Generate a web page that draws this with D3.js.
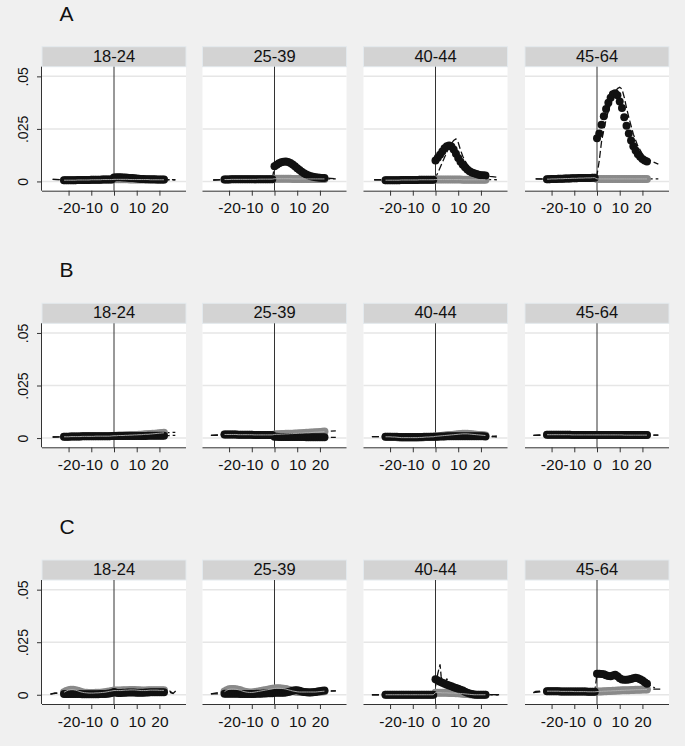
<!DOCTYPE html>
<html><head><meta charset="utf-8">
<script src="https://cdn.jsdelivr.net/npm/d3@7"></script>
<style>
body{margin:0;background:#f0f0f0;}
svg{display:block;font-family:"Liberation Sans",Arial,Helvetica,sans-serif;}
</style>
</head><body>
<svg id="chart" width="685" height="746"></svg>
<script>
// ---------- DATA ----------
const rowLabels = ["A", "B", "C"];
const ageGroups = ["18-24", "25-39", "40-44", "45-64"];
const months = [-22,-21,-20,-19,-18,-17,-16,-15,-14,-13,-12,-11,-10,-9,-8,-7,-6,-5,-4,-3,-2,-1,
                0,1,2,3,4,5,6,7,8,9,10,11,12,13,14,15,16,17,18,19,20,21,22];
const xTicks = [-20, -10, 0, 10, 20];
const yTicks = [0, 0.025, 0.05];
const yTickLabels = ["0", ".025", ".05"];

// Treated (black) series, per age group, row A
const treatedA = [
  [.0006,.0006,.0006,.0006,.0006,.0006,.0007,.0007,.0007,.0007,.0007,.0007,.0008,.0008,.0008,.0008,.0008,.0009,.0009,.0009,.0009,.0009,
   .0019,.0020,.0020,.0020,.0019,.0019,.0018,.0017,.0016,.0015,.0014,.0013,.0012,.0012,.0011,.0011,.0010,.0010,.0010,.0009,.0009,.0009,.0009],
  [.0009,.0009,.0009,.0010,.0010,.0010,.0010,.0010,.0010,.0010,.0010,.0010,.0010,.0010,.0010,.0011,.0011,.0011,.0011,.0011,.0011,.0011,
   .0072,.0080,.0087,.0091,.0094,.0095,.0093,.0088,.0081,.0072,.0063,.0054,.0046,.0039,.0033,.0028,.0025,.0022,.0020,.0019,.0018,.0017,.0016],
  [.0006,.0006,.0006,.0006,.0006,.0006,.0006,.0007,.0007,.0007,.0007,.0007,.0007,.0007,.0007,.0008,.0008,.0008,.0008,.0008,.0008,.0008,
   .0100,.0113,.0127,.0143,.0158,.0167,.0171,.0166,.0152,.0132,.0111,.0094,.0080,.0067,.0057,.0049,.0043,.0039,.0035,.0032,.0030,.0029,.0028],
  [.0011,.0011,.0012,.0012,.0012,.0013,.0013,.0013,.0014,.0014,.0014,.0015,.0015,.0015,.0016,.0016,.0016,.0017,.0017,.0017,.0018,.0018,
   .0205,.0228,.0270,.0310,.0345,.0375,.0398,.0415,.0420,.0410,.0380,.0350,.0305,.0265,.0228,.0195,.0168,.0147,.0130,.0117,.0107,.0100,.0095]
];
// Control (grey) series, row A
const controlA = [
  [.0006,.0006,.0006,.0006,.0006,.0006,.0007,.0007,.0007,.0007,.0007,.0007,.0008,.0008,.0008,.0008,.0008,.0009,.0009,.0009,.0009,.0009,
   .0010,.0010,.0010,.0010,.0010,.0010,.0010,.0009,.0009,.0009,.0009,.0009,.0009,.0009,.0009,.0009,.0008,.0008,.0008,.0008,.0008,.0008,.0008],
  [.0009,.0009,.0009,.0010,.0010,.0010,.0010,.0010,.0010,.0010,.0010,.0010,.0010,.0010,.0010,.0011,.0011,.0011,.0011,.0011,.0011,.0011,
   .0013,.0013,.0013,.0013,.0013,.0013,.0013,.0013,.0012,.0012,.0012,.0012,.0012,.0012,.0012,.0012,.0012,.0012,.0012,.0012,.0012,.0012,.0012],
  [.0006,.0006,.0006,.0006,.0006,.0006,.0006,.0007,.0007,.0007,.0007,.0007,.0007,.0007,.0007,.0008,.0008,.0008,.0008,.0008,.0008,.0008,
   .0009,.0009,.0009,.0009,.0009,.0009,.0009,.0009,.0009,.0009,.0009,.0009,.0008,.0008,.0008,.0008,.0008,.0008,.0008,.0008,.0008,.0008,.0008],
  [.0011,.0011,.0012,.0012,.0012,.0013,.0013,.0013,.0014,.0014,.0014,.0015,.0015,.0015,.0016,.0016,.0016,.0017,.0017,.0017,.0018,.0018,
   .0012,.0012,.0012,.0012,.0012,.0012,.0012,.0012,.0012,.0012,.0012,.0012,.0012,.0012,.0012,.0012,.0012,.0012,.0012,.0012,.0012,.0012,.0012]
];
// Row B
const treatedB = [
  [.0006,.0006,.0006,.0007,.0007,.0007,.0007,.0007,.0008,.0008,.0008,.0008,.0008,.0008,.0009,.0009,.0009,.0009,.0009,.0009,.0009,.0010,
   .0010,.0010,.0010,.0010,.0010,.0010,.0010,.0010,.0010,.0010,.0010,.0010,.0010,.0010,.0010,.0011,.0011,.0011,.0011,.0011,.0011,.0011,.0011],
  [.0017,.0017,.0017,.0017,.0017,.0017,.0016,.0016,.0016,.0016,.0016,.0016,.0016,.0015,.0015,.0015,.0015,.0015,.0015,.0015,.0015,.0015,
   .0006,.0006,.0005,.0005,.0005,.0005,.0005,.0005,.0005,.0005,.0005,.0005,.0005,.0005,.0004,.0004,.0004,.0004,.0004,.0004,.0004,.0004,.0004],
  [.0006,.0006,.0006,.0006,.0006,.0006,.0005,.0005,.0005,.0005,.0005,.0005,.0005,.0005,.0005,.0005,.0005,.0006,.0006,.0006,.0006,.0006,
   .0006,.0006,.0007,.0007,.0007,.0008,.0008,.0008,.0008,.0008,.0008,.0008,.0008,.0008,.0008,.0008,.0008,.0008,.0008,.0008,.0008,.0008,.0007],
  [.0016,.0016,.0016,.0016,.0016,.0016,.0016,.0016,.0016,.0016,.0016,.0015,.0015,.0015,.0015,.0015,.0015,.0015,.0015,.0015,.0015,.0015,
   .0015,.0015,.0015,.0015,.0015,.0015,.0015,.0015,.0015,.0015,.0015,.0014,.0014,.0014,.0014,.0014,.0014,.0014,.0014,.0014,.0014,.0014,.0014]
];
const controlB = [
  [.0006,.0006,.0006,.0007,.0007,.0007,.0007,.0007,.0008,.0008,.0008,.0008,.0008,.0008,.0009,.0009,.0009,.0009,.0009,.0009,.0009,.0010,
   .0011,.0011,.0012,.0012,.0012,.0013,.0013,.0014,.0014,.0015,.0015,.0016,.0016,.0017,.0018,.0018,.0019,.0020,.0021,.0022,.0023,.0024,.0025],
  [.0017,.0017,.0017,.0017,.0017,.0017,.0016,.0016,.0016,.0016,.0016,.0016,.0016,.0015,.0015,.0015,.0015,.0015,.0015,.0015,.0015,.0015,
   .0017,.0018,.0018,.0019,.0019,.0020,.0020,.0021,.0021,.0022,.0022,.0023,.0023,.0024,.0025,.0025,.0026,.0027,.0028,.0028,.0029,.0030,.0031],
  [.0006,.0006,.0006,.0005,.0005,.0004,.0003,.0002,.0002,.0002,.0002,.0002,.0002,.0002,.0002,.0003,.0003,.0004,.0005,.0005,.0006,.0006,
   .0008,.0009,.0010,.0011,.0012,.0013,.0014,.0015,.0016,.0017,.0018,.0019,.0020,.0020,.0020,.0019,.0018,.0017,.0016,.0015,.0014,.0013,.0012],
  [.0016,.0016,.0016,.0016,.0016,.0016,.0016,.0016,.0016,.0016,.0016,.0015,.0015,.0015,.0015,.0015,.0015,.0015,.0015,.0015,.0015,.0015,
   .0015,.0015,.0015,.0015,.0015,.0015,.0015,.0015,.0015,.0015,.0015,.0015,.0014,.0014,.0014,.0014,.0014,.0014,.0014,.0014,.0014,.0014,.0014]
];
// Row C
const treatedC = [
  [.0003,.0004,.0004,.0004,.0004,.0004,.0003,.0003,.0002,.0002,.0002,.0002,.0002,.0002,.0002,.0002,.0003,.0003,.0004,.0005,.0006,.0008,
   .0013,.0010,.0008,.0008,.0009,.0010,.0011,.0011,.0011,.0011,.0010,.0009,.0009,.0010,.0011,.0011,.0012,.0012,.0012,.0012,.0012,.0012,.0012],
  [.0005,.0005,.0005,.0005,.0005,.0005,.0005,.0004,.0004,.0004,.0004,.0004,.0004,.0004,.0005,.0005,.0005,.0006,.0006,.0007,.0007,.0007,
   .0010,.0010,.0010,.0010,.0010,.0011,.0013,.0016,.0019,.0021,.0021,.0019,.0016,.0013,.0012,.0011,.0011,.0012,.0013,.0015,.0017,.0019,.0020],
  [0,0,0,0,0,0,0,0,0,0,0,0,0,0,0,0,0,0,0,0,0,0,
   .0074,.0068,.0062,.0057,.0052,.0048,.0044,.0040,.0036,.0032,.0028,.0024,.0020,.0014,.0010,.0006,.0003,.0001,0,0,0,0,0],
  [.0017,.0017,.0017,.0017,.0017,.0017,.0016,.0016,.0016,.0016,.0016,.0016,.0015,.0015,.0015,.0015,.0015,.0015,.0014,.0014,.0014,.0014,
   .0100,.0100,.0099,.0097,.0093,.0089,.0088,.0092,.0095,.0088,.0078,.0072,.0071,.0071,.0072,.0075,.0079,.0081,.0079,.0074,.0068,.0060,.0052]
];
const controlC = [
  [.0012,.0018,.0022,.0024,.0024,.0022,.0019,.0015,.0012,.0010,.0009,.0008,.0008,.0008,.0009,.0009,.0010,.0011,.0012,.0014,.0016,.0018,
   .0020,.0020,.0020,.0020,.0021,.0022,.0022,.0023,.0023,.0023,.0022,.0021,.0020,.0020,.0020,.0021,.0022,.0022,.0022,.0022,.0021,.0021,.0021],
  [.0015,.0022,.0026,.0027,.0027,.0026,.0024,.0021,.0017,.0014,.0012,.0011,.0011,.0012,.0014,.0016,.0018,.0020,.0022,.0024,.0026,.0028,
   .0030,.0031,.0031,.0030,.0029,.0027,.0024,.0021,.0018,.0016,.0014,.0013,.0013,.0013,.0013,.0013,.0013,.0013,.0013,.0014,.0015,.0016,.0017],
  [0,0,0,0,0,0,0,0,0,0,0,0,0,0,0,0,0,0,0,0,0,0,
   .0010,.0010,.0010,.0009,.0009,.0009,.0008,.0008,.0008,.0007,.0007,.0006,.0005,.0004,.0003,.0002,.0001,0,0,0,0,0,0],
  [.0017,.0017,.0017,.0017,.0017,.0017,.0016,.0016,.0016,.0016,.0016,.0016,.0015,.0015,.0015,.0015,.0015,.0015,.0014,.0014,.0014,.0014,
   .0015,.0016,.0016,.0017,.0017,.0018,.0018,.0019,.0019,.0020,.0020,.0021,.0021,.0022,.0022,.0023,.0023,.0024,.0024,.0024,.0025,.0025,.0025]
];

// Dashed (fitted) lines: [month, value] pairs
const fitTreatedA = [
  [[-27,.0010],[-22,.0008],[-1,.0009],[0,.0018],[22,.0009],[27,.0008]],
  [[-27,.0007],[-22,.0009],[-1,.0011],[0,.0070],[5,.0095],[10,.0063],[15,.0028],[22,.0016],[27,.0013]],
  [[-27,.0008],[-22,.0007],[-1,.0008],[0,.0020],[1,.0040],[2,.0065],[3,.0090],[4,.0115],[5,.0140],[6,.0162],[7,.0180],[8,.0195],[9,.0202],
   [10,.0185],[11,.0150],[12,.0120],[13,.0098],[14,.0080],[16,.0058],[18,.0045],[20,.0035],[22,.0028],[24,.0024],[27,.0020]],
  [[-27,.0012],[-22,.0011],[-1,.0018],[0,.0030],[1,.0100],[2,.0190],[3,.0245],[4,.0295],[5,.0335],[6,.0370],[7,.0400],[8,.0425],[9,.0442],
   [10,.0448],[11,.0440],[12,.0400],[13,.0350],[14,.0305],[16,.0225],[18,.0168],[20,.0130],[22,.0108],[24,.0096],[27,.0082]]
];
const fitControlA = [
  [[-27,.0010],[-22,.0008],[0,.0010],[22,.0008],[27,.0008]],
  [[-27,.0007],[0,.0011],[22,.0012],[27,.0012]],
  [[-27,.0008],[0,.0008],[22,.0009],[27,.0008]],
  [[-27,.0012],[0,.0012],[22,.0012],[27,.0012]]
];
const fitTreatedB = [
  [[-27,.0005],[-22,.0006],[22,.0011],[24,.0012],[27,.0013]],
  [[-28,.0013],[-22,.0017],[22,.0004],[27,.0003]],
  [[-28,.0007],[-22,.0006],[22,.0007],[24,.0010],[27,.0005]],
  [[-28,.0013],[-22,.0016],[22,.0014],[27,.0014]]
];
const fitControlB = [
  [[-27,.0005],[0,.0010],[22,.0025],[24,.0026],[27,.0027]],
  [[-28,.0013],[0,.0016],[22,.0031],[27,.0034]],
  [[-28,.0007],[0,.0006],[22,.0012],[24,.0005],[27,.0010]],
  [[-28,.0013],[0,.0015],[22,.0014],[27,.0014]]
];
const fitTreatedC = [
  [[-28,.0003],[-26,.0009],[-22,.0004],[0,.0008],[22,.0012],[24,.0022],[26,.0006]],
  [[-28,.0004],[-22,.0005],[22,.0020],[27,.0018]],
  [[-28,0],[-1,0],[0,.0040],[1,.0100],[2,.0145],[2.5,.0085],[3,.0070],[4,.0060],[5,.0075],[6,.0050],[8,.0040],[10,.0030],
   [12,.0020],[14,.0010],[16,.0003],[22,0],[28,0]],
  [[-28,.0010],[-27,.0016],[-22,.0018],[-1,.0014],[0,.0100],[8,.0094],[12,.0071],[17,.0081],[22,.0052],[25.5,.0032]]
];
const fitControlC = [
  [[-28,.0003],[-22,.0012],[0,.0018],[22,.0021],[26,.0006],[27.5,.0022]],
  [[-28,.0004],[-22,.0015],[22,.0017],[27,.0018]],
  [[-28,0],[-1,0],[0,.0010],[12,.0006],[16,.0001],[28,0]],
  [[-28,.0010],[-22,.0017],[0,.0015],[22,.0025],[26,.0027],[28,.0027]]
];

const treatedRows = [treatedA, treatedB, treatedC];
const controlRows = [controlA, controlB, controlC];
const fitTreatedRows = [fitTreatedA, fitTreatedB, fitTreatedC];
const fitControlRows = [fitControlA, fitControlB, fitControlC];

// ---------- LAYOUT ----------
const svg = d3.select("#chart");
svg.append("rect").attr("width", 685).attr("height", 746).attr("fill", "#f0f0f0");

const panelLeft = [42, 202.5, 363.5, 525];
const panelW = 144;
const headerTop = [46.7, 303.3, 560];
const rowLabelY = [21, 277, 533.5];
const headerH = 20, plotH = 124;
const radius = 4;
const fontStack = '"Liberation Sans",Arial,sans-serif';

rowLabels.forEach((lab, r) => {
  svg.append("text").attr("x", 59.5).attr("y", rowLabelY[r])
    .attr("font-size", 21).attr("fill", "#111").text(lab);

  const plotTop = headerTop[r] + headerH;
  const plotBottom = plotTop + plotH;
  const y = d3.scaleLinear().domain([-0.0044, 0.0546]).range([plotBottom, plotTop]);

  ageGroups.forEach((age, c) => {
    const left = panelLeft[c];
    const x = d3.scaleLinear().domain([-31.7, 31.7]).range([left, left + panelW]);
    const g = svg.append("g");

    // plot region
    g.append("rect").attr("x", left).attr("y", plotTop).attr("width", panelW).attr("height", plotH)
      .attr("fill", "#ffffff");
    // header strip
    g.append("rect").attr("x", left).attr("y", headerTop[r]).attr("width", panelW).attr("height", headerH)
      .attr("fill", "#d3d3d3").attr("stroke", "#e3e9ed").attr("stroke-width", 1);
    g.append("text").attr("x", left + panelW / 2).attr("y", headerTop[r] + 15)
      .attr("text-anchor", "middle").attr("font-size", 16.5).attr("fill", "#111").text(age);

    // gridlines
    g.selectAll(".grid").data(yTicks).join("line")
      .attr("x1", left).attr("x2", left + panelW)
      .attr("y1", d => y(d)).attr("y2", d => y(d))
      .attr("stroke", "#e6e6e6").attr("stroke-width", 1.5);

    // vertical reference line at 0
    g.append("line").attr("x1", x(0)).attr("x2", x(0)).attr("y1", plotTop).attr("y2", plotBottom)
      .attr("stroke", "#333").attr("stroke-width", 1);

    const line = d3.line().x(d => x(d[0])).y(d => y(d[1]));

    // dashed fitted lines (under the markers)
    [fitControlRows[r][c], fitTreatedRows[r][c]].forEach(pts => {
      g.append("path").attr("d", line(pts)).attr("fill", "none")
        .attr("stroke", "#111").attr("stroke-width", 1.3).attr("stroke-dasharray", "7,3");
    });

    const ctrl = months.map((m, i) => [m, controlRows[r][c][i]]);
    const trt = months.map((m, i) => [m, treatedRows[r][c][i]]);

    g.selectAll(".ctl").data(ctrl).join("circle")
      .attr("cx", d => x(d[0])).attr("cy", d => y(d[1])).attr("r", radius).attr("fill", "#8a8a8a");
    g.selectAll(".trt").data(trt).join("circle")
      .attr("cx", d => x(d[0])).attr("cy", d => y(d[1])).attr("r", radius).attr("fill", "#111");

    // thin light connecting line of the control series
    g.append("path").attr("d", line(ctrl)).attr("fill", "none")
      .attr("stroke", "#b4b4b4").attr("stroke-width", 0.9);

    // x axis
    const xAxis = d3.axisBottom(x).tickValues(xTicks).tickSize(5).tickSizeOuter(0)
      .tickFormat(d => String(d).replace("\u2212", "-"));
    const ax = g.append("g").attr("transform", `translate(0,${plotBottom})`).call(xAxis);
    ax.select(".domain").attr("stroke", "#333").attr("d", `M${left},0.5H${left + panelW}`);
    ax.selectAll(".tick line").attr("stroke", "#333");
    ax.selectAll(".tick text").attr("font-size", 15.5).attr("fill", "#111")
      .attr("font-family", fontStack).attr("dy", null).attr("y", 22.5);

    // y axis on first column
    if (c === 0) {
      const yAxis = d3.axisLeft(y).tickValues(yTicks).tickSize(5).tickSizeOuter(0)
        .tickFormat((d, i) => yTickLabels[i]);
      const ay = g.append("g").attr("transform", `translate(${left},0)`).call(yAxis);
      ay.select(".domain").attr("stroke", "#333").attr("d", `M-0.5,${plotTop}V${plotBottom}`);
      ay.selectAll(".tick line").attr("stroke", "#333");
      ay.selectAll(".tick text").attr("font-size", 14).attr("fill", "#111")
        .attr("font-family", fontStack)
        .attr("x", null).attr("dy", null)
        .attr("text-anchor", "middle")
        .attr("transform", "translate(-14.5,0) rotate(-90)");
    }
  });
});
</script>
</body></html>
